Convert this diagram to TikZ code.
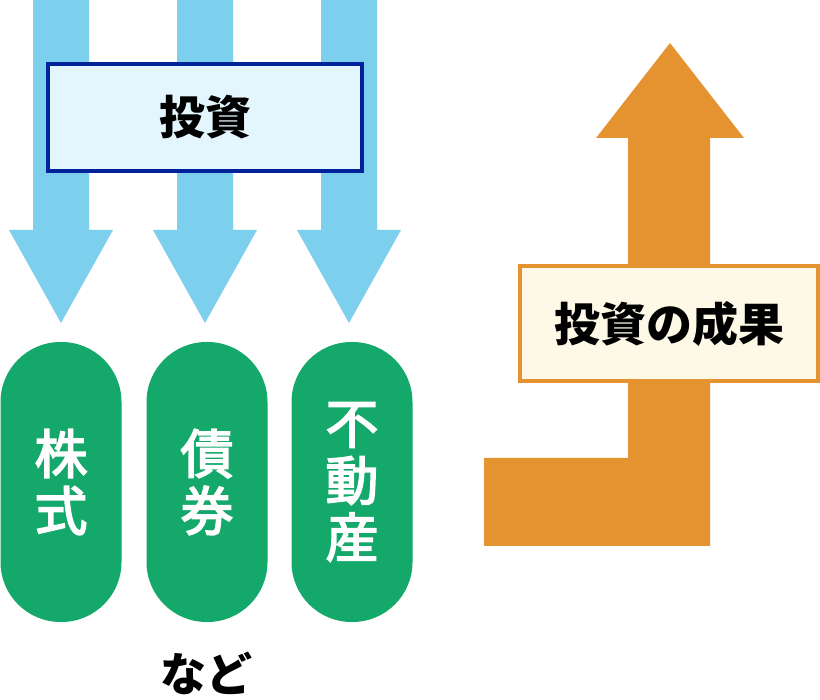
\documentclass[tikz,border=0pt]{standalone}
\usepackage{fontspec}
\setmainfont{Noto Sans CJK JP}
\newfontfamily\pillfont{Noto Sans CJK JP}[FakeBold=3]
\usepackage{tikz}

\definecolor{skyarrow}{HTML}{7DCFEE}
\definecolor{navyline}{HTML}{00239C}
\definecolor{icefill}{HTML}{E4F6FD}
\definecolor{assetgreen}{HTML}{14A86A}
\definecolor{gainorange}{HTML}{E59330}
\definecolor{creamfill}{HTML}{FEF8E6}

\tikzset{
	labelbox/.style={draw, line width=4pt, font=\fontsize{46}{50}\selectfont\bfseries, text=black, inner sep=0pt},
	assetpill/.style={fill=assetgreen, rounded corners=60pt, minimum width=121pt, minimum height=280pt, inner sep=0pt, align=center, text=white, font=\pillfont\fontsize{53}{57}\selectfont}
}

\begin{document}
\begin{tikzpicture}[x=1pt, y=-1pt]
	\useasboundingbox (0,0) rectangle (820,700);
	% blue arrows into the assets
	\foreach \c in {61,205,349} {
		\fill[skyarrow] (\c-28,0) -- (\c+28,0) -- (\c+28,230) -- (\c+52,230) -- (\c,323) -- (\c-52,230) -- (\c-28,230) -- cycle;
	}
	\node[labelbox, draw=navyline, fill=icefill, minimum width=314pt, minimum height=107pt] (invest) at (205,117.5) {投資};
	\node[assetpill] (stock) at (61,482) {株\\式};
	\node[assetpill] (bond) at (207,482) {債\\券};
	\node[assetpill] (estate) at (352,482) {不\\動\\産};
	\node[font=\fontsize{46}{50}\selectfont\bfseries, inner sep=0pt] (etc) at (206,673) {など};
	% orange arrow going up
	\fill[gainorange] (484,546) -- (710,546) -- (710,138) -- (744,138) -- (670,43) -- (596,138) -- (628,138) -- (628,458) -- (484,458) -- cycle;
	\node[labelbox, draw=gainorange, fill=creamfill, minimum width=298pt, minimum height=115pt] (result) at (669,323.5) {投資の成果};
\end{tikzpicture}
\end{document}
